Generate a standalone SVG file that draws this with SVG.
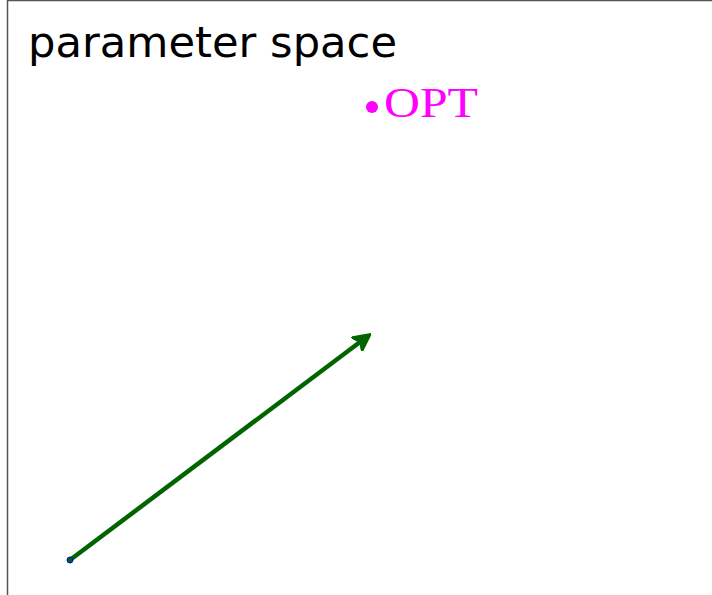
<svg xmlns="http://www.w3.org/2000/svg" width="712" height="595" viewBox="0 0 712 595">
<defs>
<style>
.title{font-family:"DejaVu Sans",sans-serif;font-size:43px;fill:#000}
.opt{font-family:"Liberation Serif",serif;font-size:42px;fill:#ff00ff}
</style>
<marker id="ah" viewBox="0 0 10 10" refX="8" refY="5" markerWidth="4" markerHeight="4" orient="auto" markerUnits="strokeWidth">
<path d="M0,0 L10,5 L0,10 L2.5,5 Z" fill="#006400" stroke="#006400" stroke-width="1" stroke-linejoin="round"/>
</marker>
</defs>
<rect width="712" height="595" fill="#fff"/>
<path d="M7.5,595 V0.5 H712" fill="none" stroke="#555" stroke-width="1.5"/>
<g id="title"><text class="title" x="28" y="57" textLength="369" lengthAdjust="spacingAndGlyphs">parameter space</text></g>
<g id="opt">
<circle cx="372" cy="107" r="6" fill="#ff00ff"/>
<text class="opt" x="384" y="117" textLength="94" lengthAdjust="spacingAndGlyphs">OPT</text>
</g>
<g id="connectors">
<line x1="70" y1="560" x2="368" y2="336" stroke="#006400" stroke-width="4.5" marker-end="url(#ah)"/>
</g>
<g id="start"><circle cx="70" cy="560" r="3" fill="#006400" stroke="#0000ff" stroke-width="1"/></g>
</svg>
